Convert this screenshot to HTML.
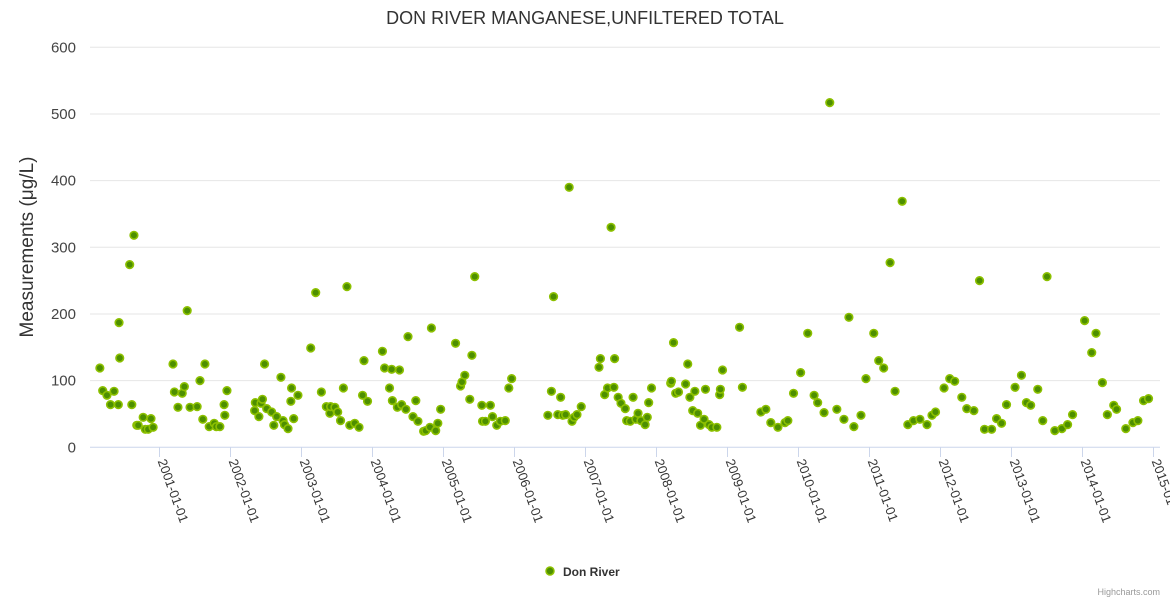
<!DOCTYPE html>
<html><head><meta charset="utf-8"><style>
html,body{margin:0;padding:0;background:#fff;}
svg{display:block;font-family:"Liberation Sans",sans-serif;}
</style></head><body>
<svg id="chart" width="1170" height="600" viewBox="0 0 1170 600">
<text x="585" y="24" text-anchor="middle" font-size="18" fill="#333">DON RIVER MANGANESE,UNFILTERED TOTAL</text>
<text transform="translate(33,247) rotate(-90)" text-anchor="middle" font-size="19" fill="#333">Measurements (μg/L)</text>
<g id="grid"></g><g id="xaxis"></g><g id="marks"></g>
<g>
<circle cx="550" cy="571" r="4" fill="#4d8f00" stroke="#8cc000" stroke-width="1.5"/>
<text x="563" y="576" font-size="12" font-weight="bold" fill="#333">Don River</text>
</g>
<text x="1160" y="595" text-anchor="end" font-size="9" fill="#999">Highcharts.com</text>
</svg>
<script>
const yTicks=[0,100,200,300,400,500,600];
const xTickLabels=["2001-01-01","2002-01-01","2003-01-01","2004-01-01","2005-01-01","2006-01-01","2007-01-01","2008-01-01","2009-01-01","2010-01-01","2011-01-01","2012-01-01","2013-01-01","2014-01-01","2015-01-01"];
const dates=[2000.16,2000.20,2000.26,2000.31,2000.36,2000.42,2000.43,2000.44,2000.58,2000.64,2000.61,2000.68,2000.70,2000.77,2000.80,2000.84,2000.88,2000.91,
2001.19,2001.21,2001.26,2001.32,2001.35,2001.39,2001.43,2001.53,2001.57,2001.61,2001.64,2001.70,2001.77,2001.80,2001.85,2001.91,2001.92,2001.95,
2002.34,2002.35,2002.40,2002.43,2002.45,2002.48,2002.51,2002.58,2002.61,2002.65,2002.71,2002.74,2002.76,2002.81,2002.85,2002.86,2002.89,2002.95,
2003.13,2003.20,2003.28,2003.35,2003.40,2003.41,2003.47,2003.51,2003.55,2003.59,2003.64,2003.68,2003.75,2003.81,2003.86,2003.88,2003.93,
2004.14,2004.17,2004.24,2004.27,2004.28,2004.35,2004.38,2004.41,2004.47,2004.50,2004.57,2004.61,2004.64,2004.72,2004.75,2004.81,2004.83,2004.89,2004.92,2004.96,
2005.17,2005.24,2005.26,2005.30,2005.37,2005.40,2005.44,2005.54,2005.55,2005.59,2005.66,2005.69,2005.75,2005.80,2005.87,2005.92,2005.96,
2006.47,2006.52,2006.55,2006.61,2006.65,2006.68,2006.72,2006.77,2006.81,2006.84,2006.88,2006.94,
2007.19,2007.21,2007.27,2007.31,2007.36,2007.40,2007.41,2007.46,2007.50,2007.56,2007.58,2007.63,2007.67,2007.71,2007.74,2007.78,2007.84,2007.87,2007.89,2007.93,
2008.20,2008.21,2008.24,2008.27,2008.31,2008.41,2008.44,2008.47,2008.51,2008.54,2008.58,2008.62,2008.67,2008.69,2008.74,2008.78,2008.85,2008.89,2008.90,2008.93,
2009.17,2009.21,2009.47,2009.54,2009.61,2009.71,2009.81,2009.85,2009.93,
2010.03,2010.13,2010.22,2010.27,2010.36,2010.44,2010.54,2010.64,2010.71,2010.78,2010.88,2010.95,
2011.06,2011.13,2011.20,2011.29,2011.36,2011.46,2011.54,2011.62,2011.71,2011.81,2011.88,2011.93,
2012.05,2012.13,2012.20,2012.30,2012.37,2012.47,2012.55,2012.62,2012.72,2012.79,2012.86,2012.93,
2013.05,2013.14,2013.21,2013.27,2013.37,2013.44,2013.50,2013.61,2013.71,2013.79,2013.86,
2014.03,2014.13,2014.19,2014.28,2014.35,2014.44,2014.48,2014.61,2014.71,2014.78,2014.86,2014.93];
const values=[119,85,78,64,84,64,187,134,274,318,64,33,33,45,27,27,43,30,
125,83,60,81,91,205,60,61,100,42,125,31,36,31,31,64,48,85,
55,67,46,66,72,125,58,53,33,46,105,40,34,28,69,89,43,78,
149,232,83,61,51,61,60,53,40,89,241,33,36,30,78,130,69,
144,119,89,117,70,60,116,64,57,166,46,70,39,24,25,30,179,25,36,57,
156,92,98,108,72,138,256,63,39,39,63,46,33,39,40,89,103,
48,84,226,49,75,48,49,390,39,45,49,61,
120,133,79,89,330,90,133,75,66,58,40,39,75,42,51,40,34,45,67,89,
96,99,157,81,83,95,125,75,55,84,51,33,42,87,34,30,30,79,87,116,
180,90,53,57,37,30,37,40,81,
112,171,78,67,52,517,57,42,195,31,48,103,
171,130,119,277,84,369,34,40,42,34,48,53,
89,103,99,75,58,55,250,27,27,43,36,64,
90,108,67,63,87,40,256,25,28,34,49,
190,142,171,97,49,63,57,28,37,40,70,73];
const NS="http://www.w3.org/2000/svg";
const X0=90,X1=1160;
function xScale(yr){return 159.5+(yr-2001)*71;}
function yScale(v){return 447.3-v*(400/600);}
const grid=document.getElementById('grid');
yTicks.forEach(t=>{
 const l=document.createElementNS(NS,'line');
 l.setAttribute('x1',X0);l.setAttribute('x2',X1);
 l.setAttribute('y1',yScale(t));l.setAttribute('y2',yScale(t));
 l.setAttribute('stroke',t===0?'#ccd6eb':'#e6e6e6');l.setAttribute('stroke-width',1);
 
 
 grid.appendChild(l);
 const tx=document.createElementNS(NS,'text');
 tx.setAttribute('x',76);tx.setAttribute('y',yScale(t)+5);
 tx.setAttribute('text-anchor','end');tx.setAttribute('font-size','15');tx.setAttribute('fill','#444');
 tx.textContent=t;
 
 
 grid.appendChild(tx);
});
const xa=document.getElementById('xaxis');
xTickLabels.forEach((s,i)=>{
 const x=xScale(2001+i);
 const l=document.createElementNS(NS,'line');
 l.setAttribute('x1',x);l.setAttribute('x2',x);l.setAttribute('y1',447.3);l.setAttribute('y2',457);
 l.setAttribute('stroke','#ccd6eb');
 
 
 xa.appendChild(l);
 const t=document.createElementNS(NS,'text');
 t.setAttribute('transform','translate('+(x-2)+',461) rotate(70)');
 t.setAttribute('font-size','13');t.setAttribute('fill','#333');
 t.textContent=s;
 
 
 xa.appendChild(t);
});
const mk=document.getElementById('marks');
dates.forEach((d,i)=>{
 const c=document.createElementNS(NS,'circle');
 c.setAttribute('cx',xScale(d));c.setAttribute('cy',yScale(values[i]));c.setAttribute('r',3.8);
 c.setAttribute('fill','#4d8f00');c.setAttribute('stroke','#8cc000');c.setAttribute('stroke-width',1.6);
 
 
 mk.appendChild(c);
});
</script>
</body></html>
